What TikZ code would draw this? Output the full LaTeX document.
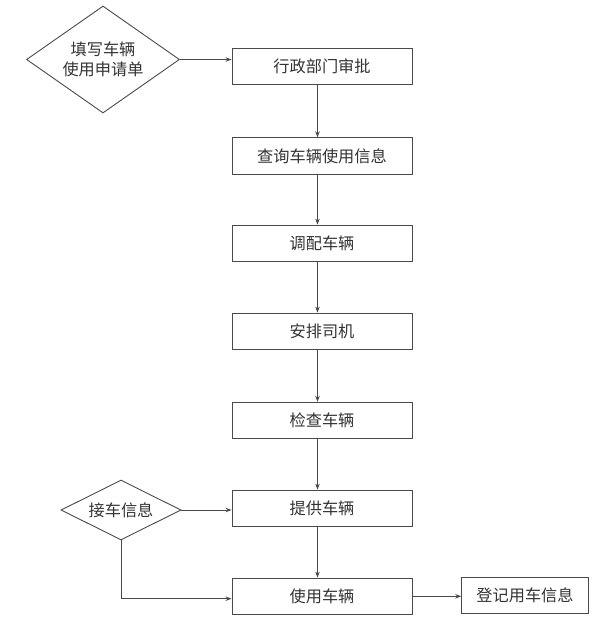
\documentclass[tikz,border=0pt]{standalone}
\usepackage{fontspec}
\setmainfont{Noto Sans CJK SC}
\usetikzlibrary{shapes.geometric,arrows.meta}
\definecolor{linegray}{HTML}{4A4A4A}
\definecolor{textgray}{HTML}{333333}

\begin{document}
\begin{tikzpicture}[x=1pt, y=-1pt, >={Stealth[length=6pt,width=4.5pt]},
    font=\fontsize{16.2}{20}\selectfont, text=textgray,
    stepbox/.style={ draw=linegray, line width=0.9pt, minimum width=180pt,
    minimum height=36.5pt, inner sep=0pt }, decision/.style={ diamond,
    draw=linegray, line width=0.9pt, inner sep=0pt, align=center },
    flow/.style={ ->, draw=linegray, line width=0.9pt } ]
  \useasboundingbox (0,0) rectangle (614,630);
  \foreach \y/\n/\l in {66.3/1/行政部门审批,156/2/查询车辆使用信息,243.3/3/调配车辆,
    331.3/4/安排司机,420.5/5/检查车辆,508.3/6/提供车辆,596.3/7/使用车辆}
  \node[stepbox] (b\n) at (322,\y) {\l};
  \node[stepbox,minimum width=126.6pt,minimum height=36pt] (rec) at (525,595.3) {登记用车信息};
  \node[decision,aspect=1.43,minimum width=153pt,minimum height=107pt] (d1) at (103,59.5) {填写车辆\\使用申请单};
  \node[decision,aspect=2,minimum width=120pt,minimum height=60pt] (d2) at (121,510) {接车信息};

  \draw[flow] (d1.east) -- (d1.east -| b1.west);
  \foreach \i/\j in {1/2,2/3,3/4,4/5,5/6,6/7}
  \draw[flow] ([xshift=-4.5pt]b\i.south) -- ([xshift=-4.5pt]b\j.north);
  \draw[flow] (d2.east) -- (d2.east -| b6.west);
  \draw[flow] (d2.south) |- ([yshift=-2.4pt]b7.west);
  \draw[flow] (b7.east) -- (b7.east -| rec.west);

\end{tikzpicture}
\end{document}
